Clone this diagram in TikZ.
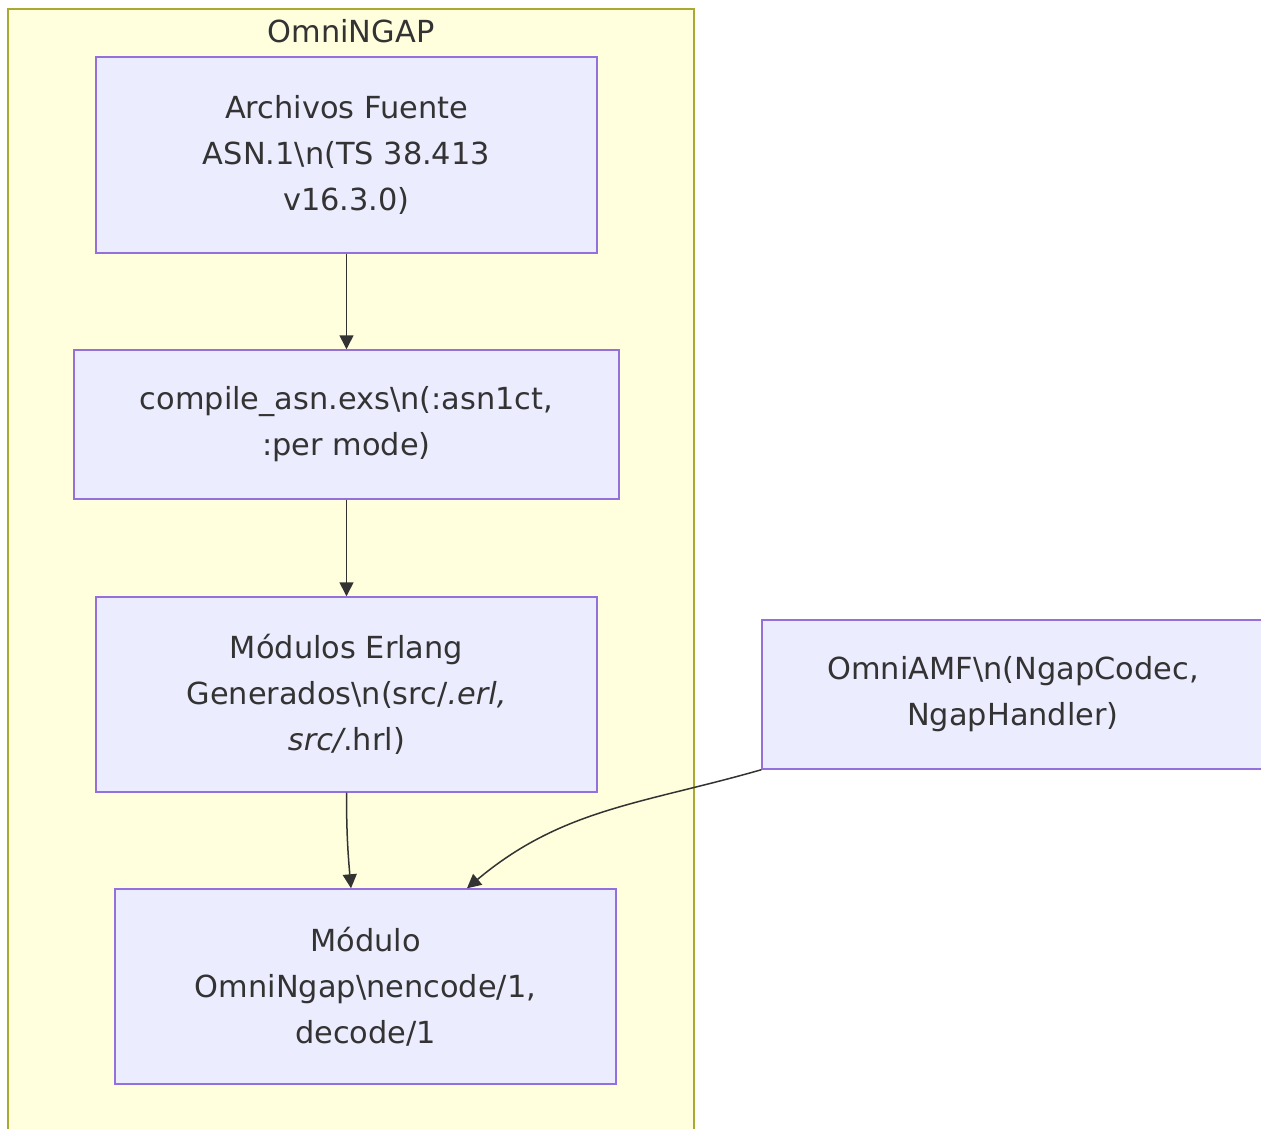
\documentclass[tikz,border=0pt]{standalone}
\usepackage{fontspec}
\setmainfont{DejaVu Sans}
\usetikzlibrary{arrows.meta}
\definecolor{clusterfill}{HTML}{FFFFDE}
\definecolor{clusterline}{HTML}{AAAA33}
\definecolor{boxfill}{HTML}{ECECFF}
\definecolor{boxline}{HTML}{9370DB}
\definecolor{edgeline}{HTML}{333333}
\definecolor{labeltext}{HTML}{333333}

\begin{document}
\begin{tikzpicture}[x=0.02cm, y=-0.02cm,
    every node/.style={font=\fontsize{17.3}{26.2}\selectfont, text=labeltext},
    cluster/.style={draw=clusterline, fill=clusterfill, line width=0.03cm},
    box/.style={draw=boxline, fill=boxfill, line width=0.03cm, rectangle,
                align=center, inner sep=0pt},
    flow/.style={draw=edgeline, line width=0.03cm,
                 -{Triangle[length=0.28cm, width=0.28cm]}}]
            \useasboundingbox (0,0) rectangle (1261,1129);
            \draw[cluster] (8,9) rectangle (694,1145);
            \node (title) at (351,31) {OmniNGAP};

            \node[box, minimum width=10.02cm, minimum height=3.92cm] (a) at (346.5,155)
                {Archivos Fuente\\ASN.1\textbackslash n(TS 38.413\\v16.3.0)};
            \node[box, minimum width=10.9cm, minimum height=2.98cm] (b) at (346.5,424.5)
                {compile\_asn.exs\textbackslash n(:asn1ct,\\:per mode)};
            \node[box, minimum width=10.02cm, minimum height=3.9cm] (c) at (346.5,694.5)
                {Módulos Erlang\\Generados\textbackslash n(src/\textit{.erl,}\\\textit{src/}.hrl)};
            \node[box, minimum width=10.02cm, minimum height=3.9cm] (d) at (365.5,986.5)
                {Módulo\\OmniNgap\textbackslash nencode/1,\\decode/1};
            \node[box, minimum width=10.04cm, minimum height=2.98cm] (e) at (1013,694.5)
                {OmniAMF\textbackslash n(NgapCodec,\\NgapHandler)};

            \draw[flow] (a) -- (b);
            \draw[flow] (b) -- (c);
            \draw[flow] (c.south) to[out=-90, in=95] ([xshift=-0.29cm]d.north);
            \draw[flow] (e.south west) to[out=196, in=40] ([xshift=2.03cm]d.north);
        \end{tikzpicture}
\end{document}
